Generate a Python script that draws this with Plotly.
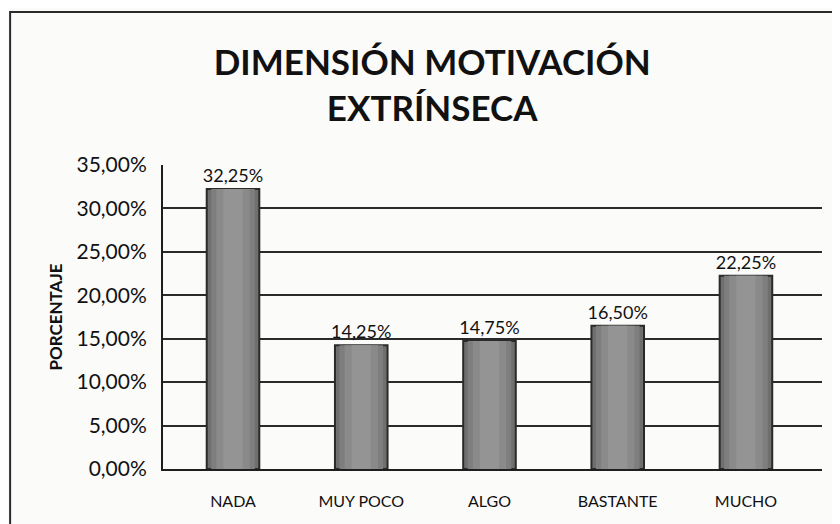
import plotly.graph_objects as go

categories = ["NADA", "MUY POCO", "ALGO", "BASTANTE", "MUCHO"]
values = [0.3225, 0.1425, 0.1475, 0.1650, 0.2225]
y_ticks = [0, 0.05, 0.10, 0.15, 0.20, 0.25, 0.30, 0.35]

title_text = "DIMENSIÓN MOTIVACIÓN<br>EXTRÍNSECA"
y_title = "PORCENTAJE"

FONT = "Lato, 'Open Sans', sans-serif"
BG = "#fbfbfa"

fig = go.Figure()

# base bar with dark edge
fig.add_trace(go.Bar(
    x=categories, y=values, width=0.41,
    marker=dict(color="#6f6f6f", line=dict(color="#2a2a2a", width=2)),
    texttemplate="%{y:.2%}", textposition="outside", constraintext="none",
    textfont=dict(family=FONT, size=18, color="#111111"),
    cliponaxis=False, hoverinfo="skip", showlegend=False,
))
# lighter inner layers to mimic cylindrical shading
for w, c in [(0.34, "#7e7e7e"), (0.26, "#8a8a8a"), (0.15, "#949494")]:
    fig.add_trace(go.Bar(
        x=categories, y=values, width=w,
        marker=dict(color=c, line=dict(width=0)),
        hoverinfo="skip", showlegend=False,
    ))

fig.update_layout(
    width=840, height=524,
    barmode="overlay",
    separators=",.",
    paper_bgcolor=BG, plot_bgcolor=BG,
    margin=dict(l=155, r=26, t=157, b=63, autoexpand=False),
    font=dict(family=FONT, color="#111111"),
    title=dict(
        text=title_text,
        font=dict(family=FONT, size=35, color="#111111", weight="bold"),
        x=0.505, xanchor="center", xref="container",
        y=0.872, yanchor="top", yref="container",
    ),
    xaxis=dict(
        range=[-0.546, 4.593],
        showgrid=False, showline=True, linecolor="#1e1e1e", linewidth=2,
        ticks="", automargin=False, ticklabelstandoff=17,
        tickfont=dict(family=FONT, size=16, color="#111111"),
    ),
    yaxis=dict(
        range=[0, 0.35], tickvals=y_ticks, tickformat=".2%",
        showgrid=True, gridcolor="#2a2a2a", gridwidth=1.5,
        showline=True, linecolor="#1e1e1e", linewidth=2,
        zeroline=False, ticks="", ticklabelstandoff=10, automargin=False,
        tickfont=dict(family=FONT, size=21, color="#111111"),
        title=dict(text=y_title, standoff=10,
                   font=dict(family=FONT, size=17, color="#111111", weight="bold")),
    ),
    shapes=[dict(
        type="rect", xref="paper", yref="paper",
        x0=-0.232, x1=1.2, y0=-0.5, y1=1.503,
        line=dict(color="#2a2a2a", width=2), fillcolor="rgba(0,0,0,0)",
        layer="below",
    )],
)

fig.write_html("out.html")
